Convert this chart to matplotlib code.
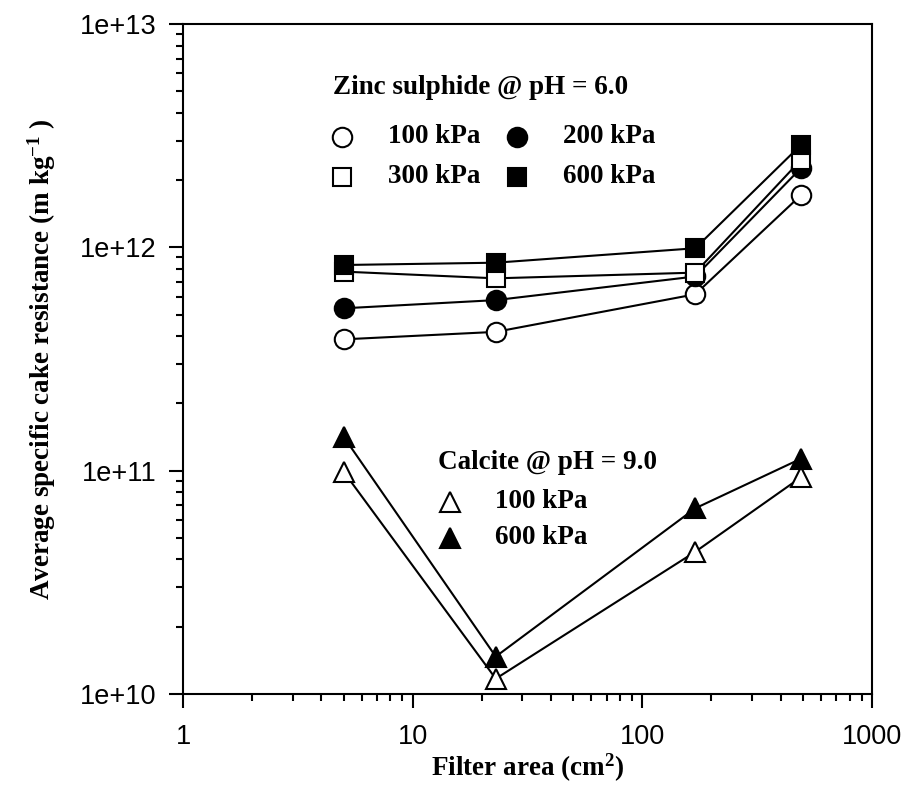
import matplotlib
matplotlib.use('Agg')
import matplotlib.pyplot as plt
from matplotlib.ticker import FixedLocator, FuncFormatter, LogLocator, NullFormatter

# filter areas (cm^2)
area = [5, 23, 170, 490]

# zinc sulphide @ pH 6.0
zns_100 = [3.87e11, 4.18e11, 6.16e11, 1.71e12]
zns_200 = [5.33e11, 5.80e11, 7.40e11, 2.26e12]
zns_300 = [7.78e11, 7.26e11, 7.70e11, 2.46e12]
zns_600 = [8.33e11, 8.53e11, 9.90e11, 2.87e12]

# calcite @ pH 9.0
cal_100 = [9.90e10, 1.17e10, 4.33e10, 9.33e10]
cal_600 = [1.42e11, 1.47e10, 6.78e10, 1.13e11]

plt.rcParams['mathtext.fontset'] = 'custom'
plt.rcParams['mathtext.rm'] = 'Liberation Serif:bold'
plt.rcParams['mathtext.bf'] = 'Liberation Serif:bold'
plt.rcParams['mathtext.default'] = 'bf'

fig = plt.figure(figsize=(9.06, 7.85), dpi=100)
ax = fig.add_axes([0.202, 0.116, 0.7605, 0.8535])

serif = dict(family='Liberation Serif', fontweight='bold', fontsize=19.5)
lw = 1.5
ms = 14

series = [
    (zns_100, 'o', 'white'),
    (zns_200, 'o', 'black'),
    (zns_300, 's', 'white'),
    (zns_600, 's', 'black'),
    (cal_100, '^', 'white'),
    (cal_600, '^', 'black'),
]
for vals, m, fc in series:
    ax.plot(area, vals, color='black', lw=lw, marker=m, ms=ms if m != 's' else 13,
            mfc=fc, mec='black', mew=lw, zorder=3)

ax.set_xscale('log')
ax.set_yscale('log')
ax.set_xlim(1, 1000)
ax.set_ylim(1e10, 1e13)

ax.xaxis.set_major_locator(FixedLocator([1, 10, 100, 1000]))
ax.xaxis.set_major_formatter(FuncFormatter(lambda v, p: f'{v:g}'))
ax.yaxis.set_major_locator(FixedLocator([1e10, 1e11, 1e12, 1e13]))
ax.yaxis.set_major_formatter(FuncFormatter(lambda v, p: f'{v:.0e}'))
ax.xaxis.set_minor_locator(LogLocator(base=10, subs=range(2, 10)))
ax.yaxis.set_minor_locator(LogLocator(base=10, subs=range(2, 10)))
ax.xaxis.set_minor_formatter(NullFormatter())
ax.yaxis.set_minor_formatter(NullFormatter())

ax.tick_params(which='both', direction='out', width=1.5, top=False, right=False)
ax.tick_params(which='major', length=10, labelsize=19.5)
ax.tick_params(axis='x', which='major', pad=12)
ax.tick_params(axis='y', which='major', pad=9)
ax.tick_params(which='minor', length=5)
for lab in ax.get_xticklabels() + ax.get_yticklabels():
    lab.set_family('Liberation Sans')
for s in ax.spines.values():
    s.set_linewidth(1.5)

ax.set_xlabel(r'Filter area (cm$^{2}$)', labelpad=1, **serif)
ax.set_ylabel(r'Average specific cake resistance (m kg$^{-1}$ )', labelpad=16, **serif)

# in-plot key, zinc sulphide
ax.text(0.2177, 0.9045, 'Zinc sulphide @ pH = 6.0', transform=ax.transAxes, va='center', **serif)
key = [
    (0.2308, 0.8313, 'o', 'white', '100 kPa'),
    (0.4848, 0.8313, 'o', 'black', '200 kPa'),
    (0.2308, 0.7716, 's', 'white', '300 kPa'),
    (0.4848, 0.7716, 's', 'black', '600 kPa'),
    (0.3875, 0.2866, '^', 'white', '100 kPa'),
    (0.3875, 0.2328, '^', 'black', '600 kPa'),
]
for kx, ky, m, fc, txt in key:
    ax.plot([kx], [ky], transform=ax.transAxes, marker=m, ms=ms if m != 's' else 13,
            mfc=fc, mec='black', mew=lw, ls='none', clip_on=False)
    ax.text(kx + 0.066, ky, txt, transform=ax.transAxes, va='center', **serif)

# in-plot key, calcite
ax.text(0.370, 0.3448, 'Calcite @ pH = 9.0', transform=ax.transAxes, va='center', **serif)

fig.savefig('out.png', dpi=100)
